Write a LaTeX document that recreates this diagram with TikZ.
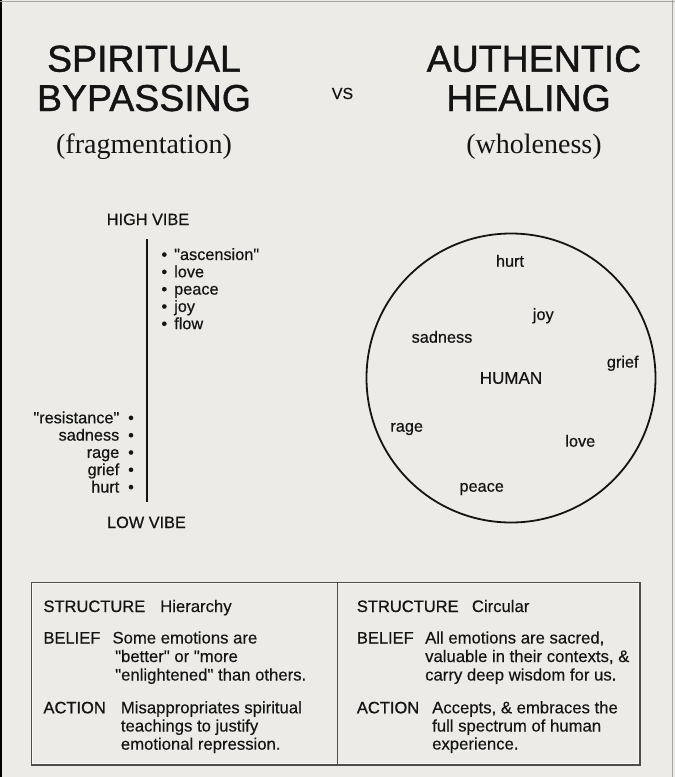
\documentclass[tikz,border=0pt]{standalone}
\usepackage{fontspec}
\setmainfont{Liberation Sans}[Ligatures=TeXOff]
\newfontfamily\serifface{Liberation Serif}[Ligatures=TeXOff]
\newfontfamily\titleface{Liberation Sans}[Ligatures=TeXOff,FakeBold=1.1]
\newfontfamily\wordface{Liberation Sans}[Ligatures=TeXOff,FakeBold=0.5]
\newfontfamily\labface{Liberation Sans}[Ligatures=TeXOff,FakeBold=0.9]
\newfontfamily\valface{Liberation Sans}[Ligatures=TeXOff,FakeBold=0.3]
\definecolor{bg}{HTML}{ECEBE7}
\definecolor{ink}{HTML}{141414}
\definecolor{rulec}{HTML}{4D4D4D}
\begin{document}
\begin{tikzpicture}[x=1pt,y=-1pt,
  txt/.style={inner sep=0pt, anchor=base, text=ink},
  title/.style={txt, font=\titleface\fontsize{37.5}{40}\selectfont},
  sub/.style={txt, font=\serifface\fontsize{28}{30}\selectfont},
  word/.style={txt, font=\wordface\fontsize{16.3}{18}\selectfont},
  lab/.style={txt, anchor=base west, font=\labface\fontsize{16.5}{18}\selectfont},
  val/.style={txt, anchor=base west, font=\valface\fontsize{16.7}{18}\selectfont},
  ]
\fill[bg] (0,0) rectangle (675,777);
\useasboundingbox (0,0) rectangle (675,777);
% image frame
\draw[black, line width=2pt] (1,0) -- (1,777);
\draw[black!35, line width=1pt] (0,1.5) -- (675,1.5);
\draw[black!35, line width=1pt] (672,0) -- (672,777);
% titles
\node[title] (t1) at (144,71.7) {SPIRITUAL};
\node[title] (t2) at (144,111) {BYPASSING};
\node[txt, font=\wordface\fontsize{16}{18}\selectfont] (vs) at (342.5,99) {VS};
\node[title] (t3) at (534,71.7) {AUTHENTIC};
\node[title] (t4) at (528.5,111) {HEALING};
\node[sub] (s1) at (144,153) {(fragmentation)};
\node[sub] (s2) at (534,153) {(wholeness)};
% hierarchy
\node[word] (high) at (148,225) {HIGH VIBE};
\node[word] (low) at (146.5,528) {LOW VIBE};
\coordinate (vtop) at (147,239);
\coordinate (vbot) at (147,502);
\draw[ink, line width=2.2pt] (vtop) -- (vbot);
% upper list
\foreach \t/\y [count=\i] in {"ascension"/260, love/277.3, peace/294.6, joy/311.9, flow/329.2}{
  \node[word] (ub\i) at (164.3,\y) {•};
  \node[word, anchor=base west] (ut\i) at (174,\y) {\t};
}
% lower list
\foreach \t/\y [count=\i] in {"resistance"/423.3, sadness/440.6, rage/457.9, grief/475.2, hurt/492.5}{
  \node[word] (lb\i) at (131,\y) {•};
  \node[word, anchor=base east] (lt\i) at (119.5,\y) {\t};
}
% circle
\node[circle, draw=ink, line width=1.8pt, minimum size=289pt, inner sep=0pt,
      text=ink, font=\wordface\fontsize{17}{18}\selectfont] (human) at (511,378) {HUMAN};
\node[word] (c1) at (510,266.7) {hurt};
\node[word] (c2) at (543.3,320) {joy};
\node[word] (c3) at (442,342.7) {sadness};
\node[word] (c4) at (622.7,367.5) {grief};
\node[word] (c5) at (406.7,431.7) {rage};
\node[word] (c6) at (580.3,446.7) {love};
\node[word] (c7) at (481.7,491.7) {peace};
% table
\node[draw=rulec, line width=1.5pt, minimum width=608pt, minimum height=182pt,
      inner sep=0pt, anchor=north west] (tbl) at (31,582) {};
\draw[white!60!bg, line width=1pt] ([shift={(1.8,1.8)}]tbl.north west) rectangle ([shift={(-1.8,-1.8)}]tbl.south east);
\draw[rulec, line width=1.5pt] ([xshift=1.5pt]tbl.north) -- ([xshift=1.5pt]tbl.south);
% left column
\node[lab] (ls) at (43.3,612) {STRUCTURE};
\node[val] (lsv) at (160,612) {Hierarchy};
\node[lab] (lbl) at (43.3,643.5) {BELIEF};
\node[val] (lb1v) at (112.3,643.5) {Some emotions are};
\node[val] (lb2v) at (115,662) {"better" or "more};
\node[val] (lb3v) at (115,680.5) {"enlightened" than others.};
\node[lab] (la) at (43.3,713.3) {ACTION};
\node[val] (la1) at (120.7,713.3) {Misappropriates spiritual};
\node[val] (la2) at (120.7,731.5) {teachings to justify};
\node[val] (la3) at (120.7,749.7) {emotional repression.};
% right column
\node[lab] (rs) at (356.7,612) {STRUCTURE};
\node[val] (rsv) at (471.7,612) {Circular};
\node[lab] (rbl) at (356.7,643.5) {BELIEF};
\node[val] (rb1) at (425,643.5) {All emotions are sacred,};
\node[val] (rb2) at (425,662) {valuable in their contexts, \&};
\node[val] (rb3) at (425,680.5) {carry deep wisdom for us.};
\node[lab] (ra) at (356.7,713.3) {ACTION};
\node[val] (ra1) at (432,713.3) {Accepts, \& embraces the};
\node[val] (ra2) at (432,731.5) {full spectrum of human};
\node[val] (ra3) at (432,749.5) {experience.};
\end{tikzpicture}
\end{document}
